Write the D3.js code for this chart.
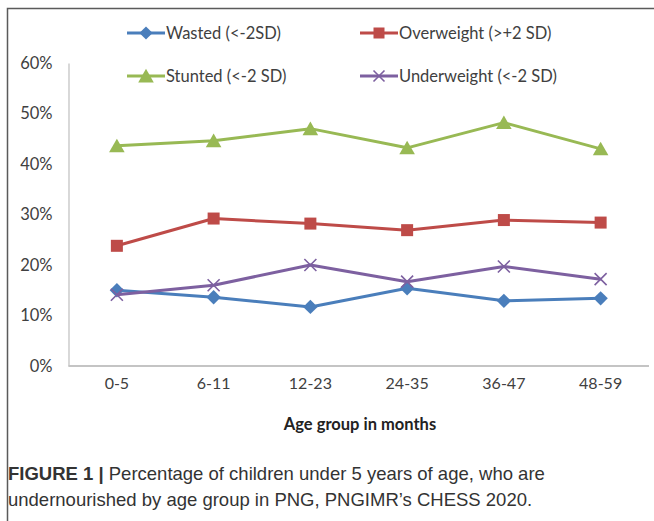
<!DOCTYPE html>
<html><head><meta charset="utf-8">
<script src="https://cdn.jsdelivr.net/npm/d3@7"></script>
<style>
html,body{margin:0;padding:0;background:#fff;}
svg{display:block;}
</style></head>
<body>
<svg id="chart" width="654" height="521"></svg>
<script>
const categories = ["0-5","6-11","12-23","24-35","36-47","48-59"];
const wasted      = [15.0, 13.6, 11.7, 15.4, 12.9, 13.4];
const overweight  = [23.8, 29.2, 28.2, 26.9, 28.9, 28.4];
const stunted     = [43.6, 44.6, 47.0, 43.2, 48.2, 43.0];
const underweight = [14.1, 16.0, 20.0, 16.7, 19.7, 17.2];
const yTicks = [0,10,20,30,40,50,60];
const seriesNames = ["Wasted (<-2SD)","Overweight (>+2 SD)","Stunted (<-2 SD)","Underweight (<-2 SD)"];

const series = [
  {name: seriesNames[0], values: wasted, color: "#4a7ebb", marker: "diamond"},
  {name: seriesNames[1], values: overweight, color: "#be4b48", marker: "square"},
  {name: seriesNames[2], values: stunted, color: "#98b954", marker: "triangle"},
  {name: seriesNames[3], values: underweight, color: "#7d60a0", marker: "x"}
];

const svg = d3.select("#chart");
const plotLeft = 68.5, plotRight = 649, plotTop = 63, plotBottom = 366;
const x = d3.scaleBand().domain(categories).range([plotLeft, plotRight]);
const y = d3.scaleLinear().domain([0, 60]).range([plotBottom, plotTop]);
const cx = c => x(c) + x.bandwidth()/2;

// frame
svg.append("path").attr("d", `M7.5,521 L7.5,8.5 L654,8.5`).attr("fill","none").attr("stroke","#5a5a5a").attr("stroke-width",1.5);

const tickFont = "Lato, 'Open Sans', sans-serif";
// y axis
const yAxis = svg.append("g").attr("transform", `translate(${plotLeft},0)`)
  .call(d3.axisLeft(y).tickValues(yTicks).tickSize(0).tickPadding(16).tickFormat(d => d + "%"));
yAxis.select(".domain").attr("stroke","#c4c4c4").attr("stroke-width",1.3);
yAxis.selectAll("text").attr("font-family", tickFont).attr("font-size", 16.5).attr("fill","#404040");

// x axis
const xAxis = svg.append("g").attr("transform", `translate(0,${plotBottom})`)
  .call(d3.axisBottom(x).tickSize(0).tickPadding(12));
xAxis.select(".domain").attr("stroke","#c4c4c4").attr("stroke-width",2).attr("d", `M${plotLeft},0H${plotRight}`);
xAxis.selectAll("text").attr("font-family", tickFont).attr("font-size", 16).attr("fill","#404040");

svg.append("text").attr("x", 360).attr("y", 430).attr("text-anchor","middle")
  .attr("font-family", tickFont).attr("font-weight","bold").attr("font-size", 16.5).attr("fill","#222")
  .text("Age group in months");

function drawMarker(g, type, color, size) {
  const s = size;
  if (type === "diamond") {
    g.append("path").attr("d", `M0,${-s*0.6} L${s*0.6},0 L0,${s*0.6} L${-s*0.6},0 Z`).attr("fill", color);
  } else if (type === "square") {
    g.append("rect").attr("x", -s/2).attr("y", -s/2).attr("width", s).attr("height", s).attr("fill", color);
  } else if (type === "triangle") {
    g.append("path").attr("d", `M0,${-s*0.55} L${s*0.6},${s*0.5} L${-s*0.6},${s*0.5} Z`).attr("fill", color);
  } else if (type === "x") {
    const h = s*0.5;
    g.append("path").attr("d", `M${-h},${-h} L${h},${h} M${-h},${h} L${h},${-h}`).attr("stroke", color).attr("stroke-width", 1.6);
  }
}

const line = d3.line().x((d,i) => cx(categories[i])).y(d => y(d));
series.forEach(s => {
  svg.append("path").datum(s.values).attr("d", line).attr("fill","none")
    .attr("stroke", s.color).attr("stroke-width", 3).attr("stroke-linejoin","round");
  s.values.forEach((v,i) => {
    const g = svg.append("g").attr("transform", `translate(${cx(categories[i])},${y(v)})`);
    drawMarker(g, s.marker, s.color, s.marker === "triangle" ? 13 : 12);
  });
});

// legend
const legendPos = [[127,33],[360,33],[127,76],[360,76]];
series.forEach((s,i) => {
  const [lx, ly] = legendPos[i];
  svg.append("line").attr("x1", lx).attr("x2", lx+38).attr("y1", ly).attr("y2", ly)
    .attr("stroke", s.color).attr("stroke-width", 3);
  const g = svg.append("g").attr("transform", `translate(${lx+19},${ly})`);
  drawMarker(g, s.marker, s.color, s.marker === "triangle" ? 13 : 11);
  svg.append("text").attr("x", lx+39).attr("y", ly).attr("dy","0.35em")
    .attr("font-family", tickFont).attr("font-size", 16.5).attr("fill","#404040").text(s.name);
});

// caption
const capFont = "'Liberation Sans Narrow', 'Arial Narrow', 'Liberation Sans', sans-serif";
const cap1 = svg.append("text").attr("x", 8).attr("y", 480).attr("font-family", capFont).attr("font-size", 18.5).attr("fill","#333");
cap1.append("tspan").attr("font-weight","bold").text("FIGURE 1 | ");
cap1.append("tspan").text("Percentage of children under 5 years of age, who are");
svg.append("text").attr("x", 8).attr("y", 506).attr("font-family", capFont).attr("font-size", 18.5).attr("fill","#333")
  .text("undernourished by age group in PNG, PNGIMR’s CHESS 2020.");
</script>
</body></html>
